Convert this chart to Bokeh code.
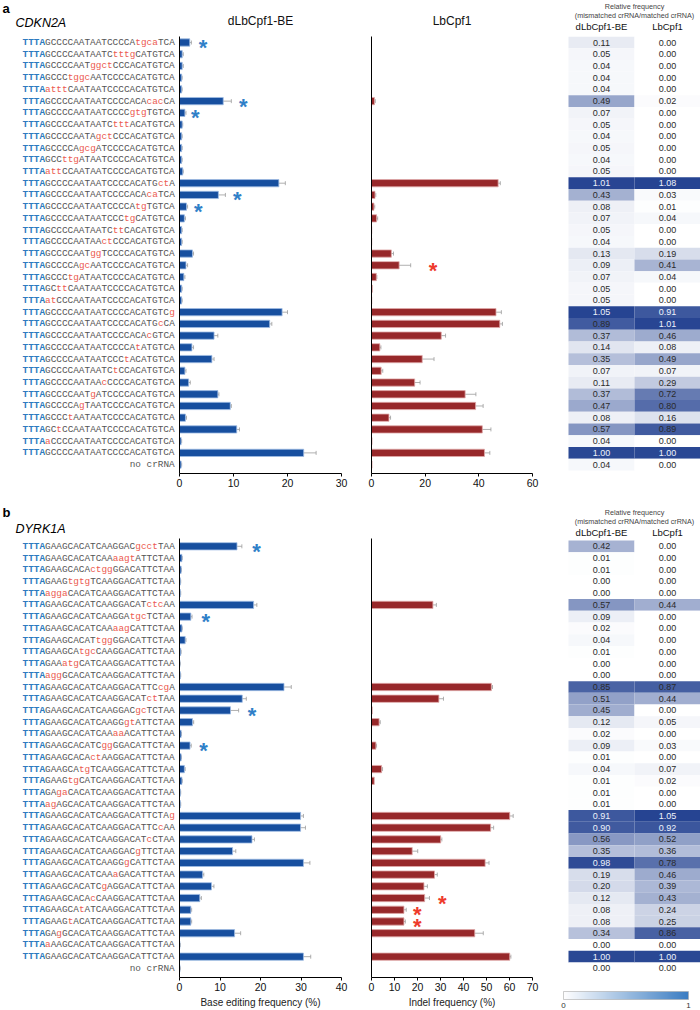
from bokeh.plotting import figure
from bokeh.models import (Range1d, ColumnDataSource, FixedTicker, Whisker, TeeHead,
                          LinearColorMapper, ColorBar)
from bokeh.layouts import row, column
from bokeh.embed import file_html
from bokeh.resources import INLINE
from bokeh.core.properties import value

# ------------------------------------------------------------------ data
a_gene = "CDKN2A"
a_seqs = [
    "TTTAGCCCCAATAATCCCCAtgcaTCA", "TTTAGCCCCAATAATCtttgCATGTCA", "TTTAGCCCCAATggctCCCACATGTCA",
    "TTTAGCCCtggcAATCCCCACATGTCA", "TTTAatttCAATAATCCCCACATGTCA", "TTTAGCCCCAATAATCCCCACAcacCA",
    "TTTAGCCCCAATAATCCCCgtgTGTCA", "TTTAGCCCCAATAATCtttACATGTCA", "TTTAGCCCCAATAgctCCCACATGTCA",
    "TTTAGCCCCAgcgATCCCCACATGTCA", "TTTAGCCttgATAATCCCCACATGTCA", "TTTAattCCAATAATCCCCACATGTCA",
    "TTTAGCCCCAATAATCCCCACATGctA", "TTTAGCCCCAATAATCCCCACAcaTCA", "TTTAGCCCCAATAATCCCCAtgTGTCA",
    "TTTAGCCCCAATAATCCCtgCATGTCA", "TTTAGCCCCAATAATCttCACATGTCA", "TTTAGCCCCAATAActCCCACATGTCA",
    "TTTAGCCCCAATggTCCCCACATGTCA", "TTTAGCCCCAgcAATCCCCACATGTCA", "TTTAGCCCtgATAATCCCCACATGTCA",
    "TTTAGCttCAATAATCCCCACATGTCA", "TTTAatCCCAATAATCCCCACATGTCA", "TTTAGCCCCAATAATCCCCACATGTCg",
    "TTTAGCCCCAATAATCCCCACATGcCA", "TTTAGCCCCAATAATCCCCACAcGTCA", "TTTAGCCCCAATAATCCCCAtATGTCA",
    "TTTAGCCCCAATAATCCCtACATGTCA", "TTTAGCCCCAATAATCtCCACATGTCA", "TTTAGCCCCAATAAcCCCCACATGTCA",
    "TTTAGCCCCAATgATCCCCACATGTCA", "TTTAGCCCCAgTAATCCCCACATGTCA", "TTTAGCCCtAATAATCCCCACATGTCA",
    "TTTAGCtCCAATAATCCCCACATGTCA", "TTTAaCCCCAATAATCCCCACATGTCA", "TTTAGCCCCAATAATCCCCACATGTCA",
    "no crRNA",
]
a_be = [1.9, 0.5, 0.5, 0.4, 0.4, 8.1, 1.0, 0.5, 0.4, 0.4, 0.4, 0.6, 18.4, 7.2, 1.3, 0.9, 0.4, 0.4, 2.4,
        1.2, 0.8, 0.4, 0.4, 19.0, 16.7, 6.4, 2.3, 6.0, 1.0, 1.7, 7.1, 9.4, 1.1, 10.6, 0.3, 23.0, 0.3]
a_be_err = [0.3, 0.2, 0.2, 0.1, 0.1, 1.5, 0.2, 0.1, 0.1, 0.1, 0.1, 0.1, 1.2, 1.3, 0.2, 0.2, 0.1, 0.1, 0.2,
            0.3, 0.2, 0.1, 0.1, 1.0, 0.4, 0.7, 0.3, 0.4, 0.2, 0.3, 0.2, 0.2, 0.2, 0.5, 0.1, 2.3, 0.1]
a_lb = [0.0, 0.0, 0.0, 0.0, 0.0, 1.1, 0.0, 0.0, 0.0, 0.0, 0.0, 0.0, 47.2, 1.3, 0.9, 1.9, 0.1, 0.1, 7.4,
        10.3, 1.8, 0.3, 0.1, 46.4, 47.8, 26.0, 3.1, 18.9, 3.6, 16.1, 34.9, 38.8, 6.5, 41.3, 0.2, 42.1, 0.2]
a_lb_err = [0, 0, 0, 0, 0, 0.3, 0, 0, 0, 0, 0, 0, 0.8, 0.3, 0.3, 0.4, 0, 0, 0.8,
            4.3, 0.2, 0, 0, 2.0, 1.0, 1.6, 0.4, 4.4, 0.6, 2.0, 4.0, 2.8, 0.6, 3.2, 0, 2.0, 0]
a_rel_be = [0.11, 0.05, 0.04, 0.04, 0.04, 0.49, 0.07, 0.05, 0.04, 0.05, 0.04, 0.05, 1.01, 0.43, 0.08, 0.07,
            0.05, 0.04, 0.13, 0.09, 0.07, 0.05, 0.05, 1.05, 0.89, 0.37, 0.14, 0.35, 0.07, 0.11, 0.37, 0.47,
            0.08, 0.57, 0.04, 1.00, 0.04]
a_rel_lb = [0.00, 0.00, 0.00, 0.00, 0.00, 0.02, 0.00, 0.00, 0.00, 0.00, 0.00, 0.00, 1.08, 0.03, 0.01, 0.04,
            0.00, 0.00, 0.19, 0.41, 0.04, 0.00, 0.00, 0.91, 1.01, 0.46, 0.08, 0.49, 0.07, 0.29, 0.72, 0.80,
            0.16, 0.89, 0.00, 1.00, 0.00]
a_star_be_rows = [1, 6, 7, 14, 15]
a_star_be_x = [4.35, 11.8, 2.9, 10.7, 3.5]
a_star_lb_rows = [20]
a_star_lb_x = [22.9]

b_gene = "DYRK1A"
b_seqs = [
    "TTTAGAAGCACATCAAGGACgcctTAA", "TTTAGAAGCACATCAAaagtATTCTAA", "TTTAGAAGCACActggGGACATTCTAA",
    "TTTAGAAGtgtgTCAAGGACATTCTAA", "TTTAaggaCACATCAAGGACATTCTAA", "TTTAGAAGCACATCAAGGACATctcAA",
    "TTTAGAAGCACATCAAGGAtgcTCTAA", "TTTAGAAGCACATCAAaagCATTCTAA", "TTTAGAAGCACATtggGGACATTCTAA",
    "TTTAGAAGCAtgcCAAGGACATTCTAA", "TTTAGAAatgCATCAAGGACATTCTAA", "TTTAaggGCACATCAAGGACATTCTAA",
    "TTTAGAAGCACATCAAGGACATTCcgA", "TTTAGAAGCACATCAAGGACATctTAA", "TTTAGAAGCACATCAAGGACgcTCTAA",
    "TTTAGAAGCACATCAAGGgtATTCTAA", "TTTAGAAGCACATCAAaaACATTCTAA", "TTTAGAAGCACATCggGGACATTCTAA",
    "TTTAGAAGCACActAAGGACATTCTAA", "TTTAGAAGCAtgTCAAGGACATTCTAA", "TTTAGAAGtgCATCAAGGACATTCTAA",
    "TTTAGAgaCACATCAAGGACATTCTAA", "TTTAagAGCACATCAAGGACATTCTAA", "TTTAGAAGCACATCAAGGACATTCTAg",
    "TTTAGAAGCACATCAAGGACATTCcAA", "TTTAGAAGCACATCAAGGACATcCTAA", "TTTAGAAGCACATCAAGGACgTTCTAA",
    "TTTAGAAGCACATCAAGGgCATTCTAA", "TTTAGAAGCACATCAAaGACATTCTAA", "TTTAGAAGCACATCgAGGACATTCTAA",
    "TTTAGAAGCACAcCAAGGACATTCTAA", "TTTAGAAGCAtATCAAGGACATTCTAA", "TTTAGAAGtACATCAAGGACATTCTAA",
    "TTTAGAgGCACATCAAGGACATTCTAA", "TTTAaAAGCACATCAAGGACATTCTAA", "TTTAGAAGCACATCAAGGACATTCTAA",
    "no crRNA",
]
b_be = [14.2, 0.6, 0.4, 0.2, 0.2, 18.3, 2.8, 0.6, 1.4, 0.3, 0.1, 0.2, 25.8, 15.5, 12.6, 3.2, 0.4, 2.6, 0.4,
        1.2, 0.6, 0.2, 0.2, 29.9, 29.9, 17.9, 13.1, 30.6, 5.7, 7.9, 5.0, 2.8, 2.8, 13.6, 0.1, 30.6, 0.1]
b_be_err = [1.2, 0.1, 0.1, 0.1, 0.1, 0.8, 0.3, 0.1, 0.2, 0.1, 0.1, 0.1, 1.8, 1.0, 2.0, 0.3, 0.1, 0.3, 0.1,
            0.2, 0.1, 0.1, 0.1, 0.7, 1.2, 0.6, 0.8, 1.6, 0.3, 0.6, 0.4, 0.2, 0.2, 1.5, 0.1, 1.8, 0.1]
b_lb = [0.0, 0.0, 0.0, 0.0, 0.0, 26.7, 0.0, 0.0, 0.0, 0.0, 0.0, 0.0, 52.1, 29.3, 0.3, 3.3, 0.0, 1.9, 0.0,
        4.4, 1.2, 0.0, 0.0, 60.1, 51.8, 30.1, 17.7, 49.4, 27.4, 22.8, 23.1, 14.1, 14.1, 44.9, 0.0, 60.1, 0.0]
b_lb_err = [0, 0, 0, 0, 0, 1.5, 0, 0, 0, 0, 0, 0, 0.5, 2.0, 0, 0.5, 0, 0.3, 0,
            0.4, 0, 0, 0, 1.5, 1.3, 0.5, 2.4, 1.7, 1.2, 1.5, 2.1, 1.0, 0.6, 3.7, 0, 0.5, 0]
b_rel_be = [0.42, 0.01, 0.01, 0.00, 0.00, 0.57, 0.09, 0.02, 0.04, 0.01, 0.00, 0.00, 0.85, 0.51, 0.45, 0.12,
            0.02, 0.09, 0.01, 0.04, 0.01, 0.01, 0.01, 0.91, 0.90, 0.56, 0.35, 0.98, 0.19, 0.20, 0.12, 0.08,
            0.08, 0.34, 0.00, 1.00, 0.00]
b_rel_lb = [0.00, 0.00, 0.00, 0.00, 0.00, 0.44, 0.00, 0.00, 0.00, 0.00, 0.00, 0.00, 0.87, 0.44, 0.00, 0.05,
            0.00, 0.03, 0.00, 0.07, 0.02, 0.00, 0.00, 1.05, 0.92, 0.52, 0.36, 0.78, 0.46, 0.39, 0.43, 0.24,
            0.25, 0.86, 0.00, 1.00, 0.00]
b_star_be_rows = [1, 7, 15, 18]
b_star_be_x = [19.0, 6.5, 17.9, 5.95]
b_star_lb_rows = [31, 32, 33]
b_star_lb_x = [30.8, 19.9, 19.9]

a_be_ticks = [0, 10, 20, 30]
a_lb_ticks = [0, 20, 40, 60]
b_be_ticks = [0, 10, 20, 30, 40]
b_lb_ticks = [0, 10, 20, 30, 40, 50, 60, 70]
heat_cols = ["dLbCpf1-BE", "LbCpf1"]

# ------------------------------------------------------------------ style
SANS = "Liberation Sans"
MONO = "Liberation Mono"
S = 11.725            # pixels per row
N = len(a_seqs)
ROWS = list(range(1, N + 1))
BLUE_BAR = "#174f9f"
RED_BAR = "#97282a"
SEQ_BLUE = "#2d7bc0"
SEQ_GRAY = "#555555"
SEQ_RED = "#ec5a4f"
HX0, HC0, HW = 544, 601, 66     # heatmap figure left, first column centre, column width (px)


def yrange(ft, fb, r1):
    return Range1d(start=1 + (fb - r1) / S, end=1 - (r1 - ft) / S)


def rc(py, r1):
    return 1 + (py - r1) / S


def base_fig(width, height, xr, yr, title=None, **kw):
    p = figure(width=width, height=height, x_range=xr, y_range=yr, output_backend="svg",
               toolbar_location=None, title=title, frame_align=False, **kw)
    p.outline_line_color = None
    p.xgrid.visible = False
    p.ygrid.visible = False
    p.background_fill_color = "white"
    p.border_fill_color = "white"
    return p


def make_labels(seqs, letter, gene, top, height, r1, letter_y, gene_y):
    p = base_fig(176, height, Range1d(0, 176), yrange(top, top + height, r1),
                 x_axis_location=None, y_axis_location=None,
                 min_border_left=0, min_border_right=0, min_border_top=0, min_border_bottom=0)
    fs = 9.4
    cw = 0.6 * fs
    xr = 174.3
    groups = {k: dict(x=[], y=[], t=[], o=[]) for k in ("blue", "gray", "red")}
    for i, s in enumerate(seqs):
        r = i + 1
        L = len(s)
        if s.startswith("TTTA"):
            runs = [("blue", 0, s[:4])]
            j = 4
            while j < L:
                low = s[j].islower()
                k = j
                while k < L and s[k].islower() == low:
                    k += 1
                runs.append(("red" if low else "gray", j, s[j:k]))
                j = k
        else:
            runs = [("gray", 0, s)]
        for g, start, txt in runs:
            d = groups[g]
            d["x"].append(xr)
            d["y"].append(r)
            d["t"].append(txt)
            d["o"].append(-(L - start) * cw)
    styles = {"blue": (SEQ_BLUE, "bold"), "gray": (SEQ_GRAY, "normal"), "red": (SEQ_RED, "normal")}
    for g, d in groups.items():
        col, st = styles[g]
        p.text(x="x", y="y", text="t", x_offset="o", source=ColumnDataSource(d),
               text_font=value(MONO), text_font_size="9.4px", text_color=col, text_font_style=st,
               text_align="left", text_baseline="middle")
    p.text(x=[2], y=[rc(letter_y, r1)], text=[letter], text_font=value(SANS), text_font_size="13px",
           text_font_style="bold", text_color="black", text_align="left", text_baseline="middle")
    p.text(x=[15], y=[rc(gene_y, r1)], text=[gene], text_font=value(SANS),
           text_font_size="12.5px", text_font_style="italic", text_color="black",
           text_align="left", text_baseline="middle")
    return p


def make_bar(vals, errs, xmax, ticks, color, edge, srows, sx, scolor, title, xlabel,
             top, height, bt, bb, r1, width, rb):
    ft = top + bt
    fb = top + height - bb
    p = base_fig(width, height, Range1d(0, xmax), yrange(ft, fb, r1), title=title,
                 min_border_left=3, min_border_right=rb, min_border_top=bt, min_border_bottom=bb)
    src = ColumnDataSource(dict(y=ROWS, v=vals))
    p.hbar(y="y", left=0, right="v", height=0.62, fill_color=color, line_color=edge,
           line_width=0.8, source=src)
    er = [(r, v, e) for r, v, e in zip(ROWS, vals, errs) if e > 0]
    esrc = ColumnDataSource(dict(y=[t[0] for t in er], lo=[t[1] - t[2] for t in er],
                                 hi=[t[1] + t[2] for t in er]))
    w = Whisker(source=esrc, base="y", lower="lo", upper="hi", dimension="width",
                line_color="#9c9c9c", line_width=0.8,
                upper_head=TeeHead(size=4, line_color="#9c9c9c", line_width=0.8),
                lower_head=TeeHead(size=4, line_color="#9c9c9c", line_width=0.8))
    p.add_layout(w)
    p.text(x=sx, y=srows, text=["*"] * len(sx), text_font=value(SANS), text_font_size="22px",
           text_font_style="bold", text_color=scolor, text_align="center", text_baseline="middle",
           y_offset=5)
    if title:
        p.title.align = "center"
        p.title.vertical_align = "top"
        p.title.text_font = SANS
        p.title.text_font_size = "12px"
        p.title.text_font_style = "normal"
        p.title.text_color = "#111111"
        p.title.standoff = 14
    ax = p.xaxis[0]
    ax.ticker = FixedTicker(ticks=ticks)
    ax.minor_tick_line_color = None
    ax.major_tick_in = 0
    ax.major_tick_out = 3
    ax.major_label_standoff = 2
    ax.major_label_text_font = SANS
    ax.major_label_text_font_size = "10.5px"
    ax.major_label_text_color = "#111111"
    ax.axis_line_color = "black"
    ax.major_tick_line_color = "black"
    if xlabel:
        ax.axis_label = xlabel
        ax.axis_label_text_font = SANS
        ax.axis_label_text_font_size = "10px"
        ax.axis_label_text_font_style = "normal"
        ax.axis_label_text_color = "#222222"
        ax.axis_label_standoff = 3
    ay = p.yaxis[0]
    ay.ticker = FixedTicker(ticks=[])
    ay.major_tick_out = 0
    ay.major_tick_in = 0
    ay.major_label_standoff = 0
    ay.minor_tick_line_color = None
    ay.axis_line_color = "black"
    return p


heat_pal = []
for i in range(256):
    t = i / 255
    heat_pal.append("#%02x%02x%02x" % (round(255 + (38 - 255) * t), round(255 + (68 - 255) * t),
                                        round(255 + (146 - 255) * t)))
cb_pal = []
for i in range(256):
    t = i / 255
    cb_pal.append("#%02x%02x%02x" % (round(255 + (58 - 255) * t), round(255 + (124 - 255) * t),
                                      round(255 + (194 - 255) * t)))


def make_heat(rel_be, rel_lb, top, height, r1, hy, bar=False):
    p = base_fig(156, height, Range1d((HX0 - HC0) / HW, (700 - HC0) / HW), yrange(top, top + height, r1),
                 x_axis_location=None, y_axis_location=None,
                 min_border_left=0, min_border_right=0, min_border_top=0, min_border_bottom=0)
    mapper = LinearColorMapper(palette=heat_pal, low=0, high=1.02)
    vals = list(rel_be) + list(rel_lb)
    src = ColumnDataSource(dict(x=[0] * N + [1] * N, y=ROWS + ROWS, v=vals,
                                lab=["%.2f" % v for v in vals],
                                tc=["#eef2fa" if v >= 0.9 else "#2a2a2a" for v in vals]))
    p.rect(x="x", y="y", width=1, height=1, source=src,
           fill_color={"field": "v", "transform": mapper}, line_color=None)
    p.text(x="x", y="y", text="lab", source=src, text_color="tc", text_font=value(SANS),
           text_font_size="9px", text_align="center", text_baseline="middle")
    p.text(x=[0.5, 0.5], y=[rc(hy[0], r1), rc(hy[1], r1)],
           text=["Relative frequency", "(mismatched crRNA/matched crRNA)"],
           text_font=value(SANS), text_font_size="7.2px", text_color="#444444",
           text_align="center", text_baseline="middle")
    p.text(x=[0, 1], y=[rc(hy[2], r1)] * 2, text=heat_cols, text_font=value(SANS),
           text_font_size="9.5px", text_color="#111111", text_align="center", text_baseline="middle")
    if bar:
        cmap = LinearColorMapper(palette=cb_pal, low=0, high=1)
        cb = ColorBar(color_mapper=cmap, orientation="horizontal", location=(19, 0), width=125,
                      height=8, padding=0, ticker=FixedTicker(ticks=[0, 1]),
                      major_label_text_font_size="8px", major_label_text_font=SANS,
                      major_label_text_color="#333333", major_tick_line_color=None,
                      bar_line_color="#aaaaaa", bar_line_width=0.6, label_standoff=3,
                      background_fill_alpha=0, border_line_color=None)
        p.add_layout(cb)
    return p


# ------------------------------------------------------------------ panel a
TA, HA, R1A = 0, 503, 42.0
la = make_labels(a_seqs, "a", a_gene, TA, HA, R1A, 8, 22.5)
bea = make_bar(a_be, a_be_err, 30, a_be_ticks, BLUE_BAR, "#9fbde3", a_star_be_rows, a_star_be_x,
               "#2f80c8", "dLbCpf1-BE", None, TA, HA, 36, 30, R1A, 192, 27)
lba = make_bar(a_lb, a_lb_err, 60, a_lb_ticks, RED_BAR, "#e0a9a9", a_star_lb_rows, a_star_lb_x,
               "#ee3a2c", "LbCpf1", None, TA, HA, 36, 30, R1A, 176, 12)
ha = make_heat(a_rel_be, a_rel_lb, TA, HA, R1A, [6, 15, 25.5])

# ------------------------------------------------------------------ panel b
TB, HB, R1B = 503, 507, 545.8
lb = make_labels(b_seqs, "b", b_gene, TB, HB, R1B, 512, 528)
beb = make_bar(b_be, b_be_err, 40, b_be_ticks, BLUE_BAR, "#9fbde3", b_star_be_rows, b_star_be_x,
               "#2f80c8", None, "Base editing frequency (%)", TB, HB, 35, 33, R1B, 192, 27)
lbb = make_bar(b_lb, b_lb_err, 70, b_lb_ticks, RED_BAR, "#e0a9a9", b_star_lb_rows, b_star_lb_x,
               "#ee3a2c", None, "Indel frequency (%)", TB, HB, 35, 33, R1B, 176, 12)
hb = make_heat(b_rel_be, b_rel_lb, TB, HB, R1B, [511.7, 520.7, 531.7], bar=True)

p = column(row(la, bea, lba, ha), row(lb, beb, lbb, hb))
open("out.html", "w").write(file_html(p, INLINE))
